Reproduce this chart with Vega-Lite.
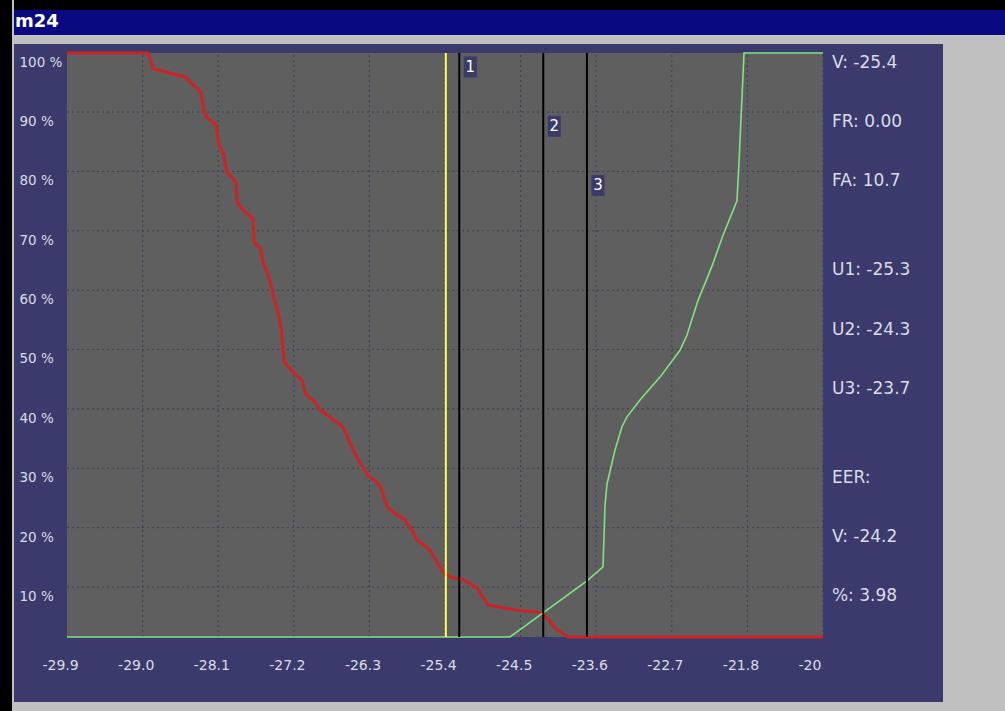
{
  "$schema": "https://vega.github.io/schema/vega-lite/v6.json",
  "background": "#c0c0c0",
  "padding": 0,
  "config": {
    "locale": {"number": {"decimal": ".", "thousands": ",", "grouping": [3], "currency": ["", ""], "minus": "-"}},
    "view": {"stroke": null},
    "axis": {"domain": false, "ticks": false, "tickSize": 0, "grid": false, "labelFont": "DejaVu Sans", "labelColor": "#dcdce6", "labelFlush": false, "labelOverlap": false, "labelBound": false}
  },
  "datasets": {
    "curves": [
      {"series": "FA", "threshold": -29.9, "pct": 100},
      {"series": "FA", "threshold": -28.936, "pct": 100},
      {"series": "FA", "threshold": -28.876, "pct": 97.3},
      {"series": "FA", "threshold": -28.495, "pct": 95.9},
      {"series": "FA", "threshold": -28.305, "pct": 93.3},
      {"series": "FA", "threshold": -28.269, "pct": 89.9},
      {"series": "FA", "threshold": -28.233, "pct": 89.0},
      {"series": "FA", "threshold": -28.126, "pct": 87.7},
      {"series": "FA", "threshold": -28.09, "pct": 84.2},
      {"series": "FA", "threshold": -28.043, "pct": 83.0},
      {"series": "FA", "threshold": -27.995, "pct": 79.6},
      {"series": "FA", "threshold": -27.888, "pct": 77.9},
      {"series": "FA", "threshold": -27.876, "pct": 74.5},
      {"series": "FA", "threshold": -27.805, "pct": 73.1},
      {"series": "FA", "threshold": -27.686, "pct": 71.7},
      {"series": "FA", "threshold": -27.674, "pct": 67.6},
      {"series": "FA", "threshold": -27.59, "pct": 66.3},
      {"series": "FA", "threshold": -27.567, "pct": 64.2},
      {"series": "FA", "threshold": -27.495, "pct": 61.5},
      {"series": "FA", "threshold": -27.436, "pct": 58.0},
      {"series": "FA", "threshold": -27.388, "pct": 55.7},
      {"series": "FA", "threshold": -27.352, "pct": 52.9},
      {"series": "FA", "threshold": -27.329, "pct": 49.6},
      {"series": "FA", "threshold": -27.317, "pct": 47.1},
      {"series": "FA", "threshold": -27.21, "pct": 45.4},
      {"series": "FA", "threshold": -27.102, "pct": 44.0},
      {"series": "FA", "threshold": -27.067, "pct": 41.8},
      {"series": "FA", "threshold": -26.948, "pct": 40.2},
      {"series": "FA", "threshold": -26.888, "pct": 38.9},
      {"series": "FA", "threshold": -26.614, "pct": 36.0},
      {"series": "FA", "threshold": -26.531, "pct": 33.2},
      {"series": "FA", "threshold": -26.448, "pct": 30.7},
      {"series": "FA", "threshold": -26.317, "pct": 27.7},
      {"series": "FA", "threshold": -26.174, "pct": 26.0},
      {"series": "FA", "threshold": -26.09, "pct": 22.3},
      {"series": "FA", "threshold": -26.019, "pct": 21.4},
      {"series": "FA", "threshold": -25.876, "pct": 20.0},
      {"series": "FA", "threshold": -25.781, "pct": 18.0},
      {"series": "FA", "threshold": -25.733, "pct": 16.6},
      {"series": "FA", "threshold": -25.579, "pct": 14.9},
      {"series": "FA", "threshold": -25.424, "pct": 11.1},
      {"series": "FA", "threshold": -25.34, "pct": 10.3},
      {"series": "FA", "threshold": -25.186, "pct": 9.8},
      {"series": "FA", "threshold": -25.019, "pct": 8.4},
      {"series": "FA", "threshold": -24.948, "pct": 6.8},
      {"series": "FA", "threshold": -24.888, "pct": 5.5},
      {"series": "FA", "threshold": -24.745, "pct": 5.1},
      {"series": "FA", "threshold": -24.543, "pct": 4.6},
      {"series": "FA", "threshold": -24.305, "pct": 4.3},
      {"series": "FA", "threshold": -24.233, "pct": 4.0},
      {"series": "FA", "threshold": -24.15, "pct": 2.6},
      {"series": "FA", "threshold": -24.09, "pct": 1.5},
      {"series": "FA", "threshold": -23.936, "pct": 0},
      {"series": "FA", "threshold": -20.9, "pct": 0},
      {"series": "FR", "threshold": -29.9, "pct": 0},
      {"series": "FR", "threshold": -24.626, "pct": 0},
      {"series": "FR", "threshold": -24.245, "pct": 4.0},
      {"series": "FR", "threshold": -23.71, "pct": 9.6},
      {"series": "FR", "threshold": -23.519, "pct": 12.0},
      {"series": "FR", "threshold": -23.495, "pct": 22.5},
      {"series": "FR", "threshold": -23.471, "pct": 26.2},
      {"series": "FR", "threshold": -23.376, "pct": 32.0},
      {"series": "FR", "threshold": -23.293, "pct": 36.0},
      {"series": "FR", "threshold": -23.233, "pct": 37.7},
      {"series": "FR", "threshold": -23.079, "pct": 40.6},
      {"series": "FR", "threshold": -22.84, "pct": 44.5},
      {"series": "FR", "threshold": -22.602, "pct": 49.1},
      {"series": "FR", "threshold": -22.519, "pct": 51.7},
      {"series": "FR", "threshold": -22.388, "pct": 57.6},
      {"series": "FR", "threshold": -22.221, "pct": 63.5},
      {"series": "FR", "threshold": -22.09, "pct": 68.8},
      {"series": "FR", "threshold": -21.924, "pct": 74.7},
      {"series": "FR", "threshold": -21.9, "pct": 81.2},
      {"series": "FR", "threshold": -21.864, "pct": 92.4},
      {"series": "FR", "threshold": -21.84, "pct": 100},
      {"series": "FR", "threshold": -20.9, "pct": 100}
    ],
    "xgrid": [
      {"tick": -29.0}, {"tick": -28.1}, {"tick": -27.2}, {"tick": -26.3}, {"tick": -25.4},
      {"tick": -24.5}, {"tick": -23.6}, {"tick": -22.7}, {"tick": -21.8}, {"tick": -20.9}
    ],
    "ygrid": [
      {"level": 10}, {"level": 20}, {"level": 30}, {"level": 40}, {"level": 50},
      {"level": 60}, {"level": 70}, {"level": 80}, {"level": 90}
    ],
    "cursors": [
      {"cursor": "V", "threshold": -25.39},
      {"cursor": "U1", "threshold": -25.23, "marker": 1},
      {"cursor": "U2", "threshold": -24.23, "marker": 2},
      {"cursor": "U3", "threshold": -23.71, "marker": 3}
    ],
    "readouts": [
      {"label": "V: -25.4", "line": 1},
      {"label": "FR: 0.00", "line": 2},
      {"label": "FA: 10.7", "line": 3},
      {"label": "U1: -25.3", "line": 4.5},
      {"label": "U2: -24.3", "line": 5.5},
      {"label": "U3: -23.7", "line": 6.5},
      {"label": "EER:", "line": 8},
      {"label": "V: -24.2", "line": 9},
      {"label": "%: 3.98", "line": 10}
    ]
  },
  "spacing": 2,
  "hconcat": [
    {"width": 12, "height": 711, "view": {"fill": "#000000", "stroke": null}, "data": {"values": []}, "mark": "rect", "encoding": {}},
    {
      "spacing": 9,
      "vconcat": [
        {
          "spacing": 0,
          "vconcat": [
            {"width": 991, "height": 10, "view": {"fill": "#000000", "stroke": null}, "data": {"values": []}, "mark": "rect", "encoding": {}},
            {
              "width": 991, "height": 25,
              "view": {"fill": "#0a0a80", "stroke": null},
              "data": {"values": [{"window": "m24"}]},
              "mark": {"type": "text", "color": "#ffffff", "font": "DejaVu Sans", "fontSize": 18, "fontWeight": "bold", "align": "left", "baseline": "middle", "dx": 1, "dy": -1},
              "encoding": {
                "x": {"datum": 0, "type": "quantitative", "scale": {"domain": [0, 1], "nice": false, "zero": false}, "axis": null},
                "y": {"datum": 0.5, "type": "quantitative", "scale": {"domain": [0, 1], "nice": false, "zero": false}, "axis": null},
                "text": {"field": "window", "type": "nominal"}
              }
            }
          ]
        },
        {
          "width": 929,
          "height": 658,
          "view": {"fill": "#3b3a6c", "stroke": null},
          "resolve": {"scale": {"y": "independent"}, "axis": {"y": "independent"}},
          "layer": [
            {
              "data": {"name": "curves"},
              "mark": {"type": "rect", "color": "#5f5f5f"},
              "encoding": {
                "x": {"aggregate": "min", "field": "threshold", "type": "quantitative", "scale": {"domain": [-30.531, -19.471], "nice": false, "zero": false},
                  "axis": {"orient": "bottom", "title": null, "zindex": 1, "values": [-29.9, -29.0, -28.1, -27.2, -26.3, -25.4, -24.5, -23.6, -22.7, -21.8, -20.9], "labelExpr": "datum.value > -21 ? '-20' : format(datum.value, '.1f')", "labelAlign": "left", "labelOffset": -25, "labelPadding": -37, "labelBaseline": "middle", "labelFontSize": 14, "labelColor": "#dcdce6"}},
                "x2": {"aggregate": "max", "field": "threshold"},
                "y": {"aggregate": "min", "field": "pct", "type": "quantitative", "scale": {"domain": [-11.13, 101.54], "nice": false, "zero": false}, "axis": null},
                "y2": {"aggregate": "max", "field": "pct"}
              }
            },
            {
              "data": {"name": "xgrid"},
              "mark": {"type": "rule", "color": "#3c3c5c", "strokeDash": [2, 3], "strokeWidth": 1},
              "encoding": {
                "x": {"field": "tick", "type": "quantitative", "scale": {"domain": [-30.531, -19.471], "nice": false, "zero": false},
                  "axis": {"orient": "bottom", "title": null, "zindex": 1, "values": [-29.9, -29.0, -28.1, -27.2, -26.3, -25.4, -24.5, -23.6, -22.7, -21.8, -20.9], "labelExpr": "datum.value > -21 ? '-20' : format(datum.value, '.1f')", "labelAlign": "left", "labelOffset": -25, "labelPadding": -37, "labelBaseline": "middle", "labelFontSize": 14, "labelColor": "#dcdce6"}},
                "y": {"datum": 0, "type": "quantitative", "scale": {"domain": [-11.13, 101.54], "nice": false, "zero": false}, "axis": null},
                "y2": {"datum": 100}
              }
            },
            {
              "data": {"name": "ygrid"},
              "mark": {"type": "rule", "color": "#3c3c5c", "strokeDash": [2, 3], "strokeWidth": 1},
              "encoding": {
                "y": {
                  "field": "level", "type": "quantitative",
                  "scale": {"domain": [-9.364, 101.46], "nice": false, "zero": false},
                  "axis": {
                    "orient": "left", "title": null,
                    "values": [10, 20, 30, 40, 50, 60, 70, 80, 90, 100],
                    "labelExpr": "datum.value + ' %'",
                    "labelAlign": "left", "labelPadding": -5, "labelBaseline": "middle", "labelOffset": 9.4, "labelFontSize": 13.5
                  }
                },
                "x": {"datum": -29.9, "type": "quantitative", "scale": {"domain": [-30.531, -19.471], "nice": false, "zero": false},
                  "axis": {"orient": "bottom", "title": null, "zindex": 1, "values": [-29.9, -29.0, -28.1, -27.2, -26.3, -25.4, -24.5, -23.6, -22.7, -21.8, -20.9], "labelExpr": "datum.value > -21 ? '-20' : format(datum.value, '.1f')", "labelAlign": "left", "labelOffset": -25, "labelPadding": -37, "labelBaseline": "middle", "labelFontSize": 14, "labelColor": "#dcdce6"}},
                "x2": {"datum": -20.9}
              }
            },
            {
              "data": {"name": "curves"},
              "transform": [{"filter": "datum.series === 'FA'"}],
              "mark": {"type": "line", "color": "#cc2424", "strokeWidth": 3},
              "encoding": {
                "x": {"field": "threshold", "type": "quantitative", "scale": {"domain": [-30.531, -19.471], "nice": false, "zero": false},
                  "axis": {"orient": "bottom", "title": null, "zindex": 1, "values": [-29.9, -29.0, -28.1, -27.2, -26.3, -25.4, -24.5, -23.6, -22.7, -21.8, -20.9], "labelExpr": "datum.value > -21 ? '-20' : format(datum.value, '.1f')", "labelAlign": "left", "labelOffset": -25, "labelPadding": -37, "labelBaseline": "middle", "labelFontSize": 14, "labelColor": "#dcdce6"}},
                "y": {"field": "pct", "type": "quantitative", "scale": {"domain": [-11.13, 101.54], "nice": false, "zero": false}, "axis": null}
              }
            },
            {
              "data": {"name": "curves"},
              "transform": [{"filter": "datum.series === 'FR'"}],
              "mark": {"type": "line", "color": "#84e284", "strokeWidth": 1.6},
              "encoding": {
                "x": {"field": "threshold", "type": "quantitative", "scale": {"domain": [-30.531, -19.471], "nice": false, "zero": false},
                  "axis": {"orient": "bottom", "title": null, "zindex": 1, "values": [-29.9, -29.0, -28.1, -27.2, -26.3, -25.4, -24.5, -23.6, -22.7, -21.8, -20.9], "labelExpr": "datum.value > -21 ? '-20' : format(datum.value, '.1f')", "labelAlign": "left", "labelOffset": -25, "labelPadding": -37, "labelBaseline": "middle", "labelFontSize": 14, "labelColor": "#dcdce6"}},
                "y": {"field": "pct", "type": "quantitative", "scale": {"domain": [-11.13, 101.54], "nice": false, "zero": false}, "axis": null}
              }
            },
            {
              "data": {"name": "cursors"},
              "mark": {"type": "rule", "strokeWidth": 2},
              "encoding": {
                "x": {"field": "threshold", "type": "quantitative", "scale": {"domain": [-30.531, -19.471], "nice": false, "zero": false},
                  "axis": {"orient": "bottom", "title": null, "zindex": 1, "values": [-29.9, -29.0, -28.1, -27.2, -26.3, -25.4, -24.5, -23.6, -22.7, -21.8, -20.9], "labelExpr": "datum.value > -21 ? '-20' : format(datum.value, '.1f')", "labelAlign": "left", "labelOffset": -25, "labelPadding": -37, "labelBaseline": "middle", "labelFontSize": 14, "labelColor": "#dcdce6"}},
                "y": {"datum": 0, "type": "quantitative", "scale": {"domain": [-11.13, 101.54], "nice": false, "zero": false}, "axis": null},
                "y2": {"datum": 100},
                "color": {"condition": {"test": "datum.cursor === 'V'", "value": "#ffff55"}, "value": "#000000"}
              }
            },
            {
              "data": {"name": "cursors"},
              "transform": [{"filter": "isValid(datum.marker)"}],
              "mark": {"type": "point", "shape": "M-0.62,-1H0.62V1H-0.62Z", "size": 441, "filled": true, "color": "#3b3a6c", "opacity": 1, "xOffset": 11, "yOffset": 4},
              "encoding": {
                "x": {"field": "threshold", "type": "quantitative", "scale": {"domain": [-30.531, -19.471], "nice": false, "zero": false},
                  "axis": {"orient": "bottom", "title": null, "zindex": 1, "values": [-29.9, -29.0, -28.1, -27.2, -26.3, -25.4, -24.5, -23.6, -22.7, -21.8, -20.9], "labelExpr": "datum.value > -21 ? '-20' : format(datum.value, '.1f')", "labelAlign": "left", "labelOffset": -25, "labelPadding": -37, "labelBaseline": "middle", "labelFontSize": 14, "labelColor": "#dcdce6"}},
                "y": {"field": "marker", "type": "quantitative", "scale": {"domain": [0.679, 11.79], "nice": false, "zero": false, "reverse": true}, "axis": null}
              }
            },
            {
              "data": {"name": "cursors"},
              "transform": [{"filter": "isValid(datum.marker)"}],
              "mark": {"type": "text", "color": "#ffffff", "font": "DejaVu Sans", "fontSize": 15, "align": "center", "baseline": "middle", "xOffset": 11, "yOffset": 4},
              "encoding": {
                "x": {"field": "threshold", "type": "quantitative", "scale": {"domain": [-30.531, -19.471], "nice": false, "zero": false},
                  "axis": {"orient": "bottom", "title": null, "zindex": 1, "values": [-29.9, -29.0, -28.1, -27.2, -26.3, -25.4, -24.5, -23.6, -22.7, -21.8, -20.9], "labelExpr": "datum.value > -21 ? '-20' : format(datum.value, '.1f')", "labelAlign": "left", "labelOffset": -25, "labelPadding": -37, "labelBaseline": "middle", "labelFontSize": 14, "labelColor": "#dcdce6"}},
                "y": {"field": "marker", "type": "quantitative", "scale": {"domain": [0.679, 11.79], "nice": false, "zero": false, "reverse": true}, "axis": null},
                "text": {"field": "marker", "type": "nominal"}
              }
            },
            {
              "data": {"name": "readouts"},
              "mark": {"type": "text", "color": "#dcdce6", "font": "DejaVu Sans", "fontSize": 17, "align": "left", "baseline": "middle", "dx": 9},
              "encoding": {
                "x": {"datum": -20.9, "type": "quantitative", "scale": {"domain": [-30.531, -19.471], "nice": false, "zero": false},
                  "axis": {"orient": "bottom", "title": null, "zindex": 1, "values": [-29.9, -29.0, -28.1, -27.2, -26.3, -25.4, -24.5, -23.6, -22.7, -21.8, -20.9], "labelExpr": "datum.value > -21 ? '-20' : format(datum.value, '.1f')", "labelAlign": "left", "labelOffset": -25, "labelPadding": -37, "labelBaseline": "middle", "labelFontSize": 14, "labelColor": "#dcdce6"}},
                "y": {"field": "line", "type": "quantitative", "scale": {"domain": [0.679, 11.79], "nice": false, "zero": false, "reverse": true}, "axis": null},
                "text": {"field": "label", "type": "nominal"}
              }
            }
          ]
        }
      ]
    }
  ]
}
